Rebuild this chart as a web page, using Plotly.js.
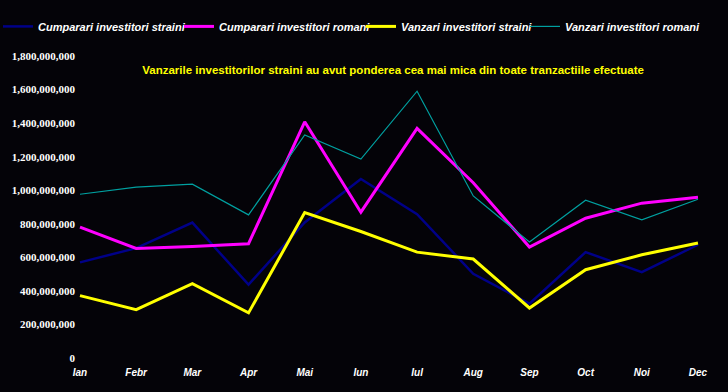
<!DOCTYPE html>
<html>
<head>
<meta charset="utf-8">
<script src="https://cdn.plot.ly/plotly-3.0.1.min.js"></script>
<style>html,body{margin:0;padding:0;background:#040308;}</style>
</head>
<body>
<div id="chart" style="width:728px;height:392px;"></div>
<script>
const months = ["Ian","Febr","Mar","Apr","Mai","Iun","Iul","Aug","Sep","Oct","Noi","Dec"];
const cumparariStraini = [570e6, 655e6, 807e6, 437e6, 808e6, 1067e6, 857e6, 502e6, 324e6, 631e6, 512e6, 675e6];
const cumparariRomani  = [780e6, 653e6, 665e6, 681e6, 1408e6, 869e6, 1369e6, 1045e6, 661e6, 833e6, 923e6, 958e6];
const vanzariStraini   = [372e6, 288e6, 443e6, 269e6, 867e6, 754e6, 631e6, 590e6, 298e6, 526e6, 615e6, 685e6];
const vanzariRomani    = [976e6, 1018e6, 1036e6, 853e6, 1329e6, 1186e6, 1590e6, 966e6, 691e6, 940e6, 823e6, 946e6];
const seriesNames = ["Cumparari investitori straini","Cumparari investitori romani","Vanzari investitori straini","Vanzari investitori romani"];
const yTicks = [0,200e6,400e6,600e6,800e6,1000e6,1200e6,1400e6,1600e6,1800e6];
const yTickText = ["0","200,000,000","400,000,000","600,000,000","800,000,000","1,000,000,000","1,200,000,000","1,400,000,000","1,600,000,000","1,800,000,000"];

const traces = [
  {x: months, y: cumparariStraini, name: seriesNames[0], mode: "lines", line: {color: "#000088", width: 2.5}, legend: "legend"},
  {x: months, y: cumparariRomani, name: seriesNames[1], mode: "lines", line: {color: "#ff00ff", width: 3}, legend: "legend2"},
  {x: months, y: vanzariStraini, name: seriesNames[2], mode: "lines", line: {color: "#ffff00", width: 3}, legend: "legend3"},
  {x: months, y: vanzariRomani, name: seriesNames[3], mode: "lines", line: {color: "#00a0a0", width: 1.2}, legend: "legend4"}
];

const legFont = {family: "Liberation Sans, Arial, sans-serif", size: 11, color: "#ffffff", weight: "bold", style: "italic"};
function leg(px) {
  return {x: (px - 76) / 634, xanchor: "left", y: 1.098, yanchor: "middle", font: legFont,
          bgcolor: "rgba(0,0,0,0)", itemwidth: 30, orientation: "h"};
}

const layout = {
  width: 728, height: 392,
  paper_bgcolor: "#040308", plot_bgcolor: "#040308",
  margin: {l: 76, r: 18, t: 56, b: 34, autoexpand: false},
  showlegend: true,
  title: {
    text: "Vanzarile investitorilor straini au avut ponderea cea mai mica din toate tranzactiile efectuate",
    font: {family: "Liberation Sans, Arial, sans-serif", size: 11.5, color: "#ffff00", weight: "bold"},
    x: 0.54, xanchor: "center", y: 1 - 70/392, yanchor: "middle"
  },
  legend: leg(-2),
  legend2: leg(179),
  legend3: leg(361),
  legend4: leg(525),
  xaxis: {
    type: "category", range: [-0.071, 11.214],
    showgrid: false, zeroline: false, showline: false, ticks: "",
    tickfont: {family: "Liberation Sans, Arial, sans-serif", size: 10, color: "#ffffff", weight: "bold", style: "italic"},
    ticklabelstandoff: 7
  },
  yaxis: {
    range: [0, 1.8e9], tickvals: yTicks, ticktext: yTickText,
    showgrid: false, zeroline: false, showline: false, ticks: "",
    tickfont: {family: "Liberation Serif, Times New Roman, serif", size: 11, color: "#ffffff", weight: "bold"}
  }
};

Plotly.newPlot("chart", traces, layout, {displayModeBar: false, staticPlot: true});
</script>
</body>
</html>
